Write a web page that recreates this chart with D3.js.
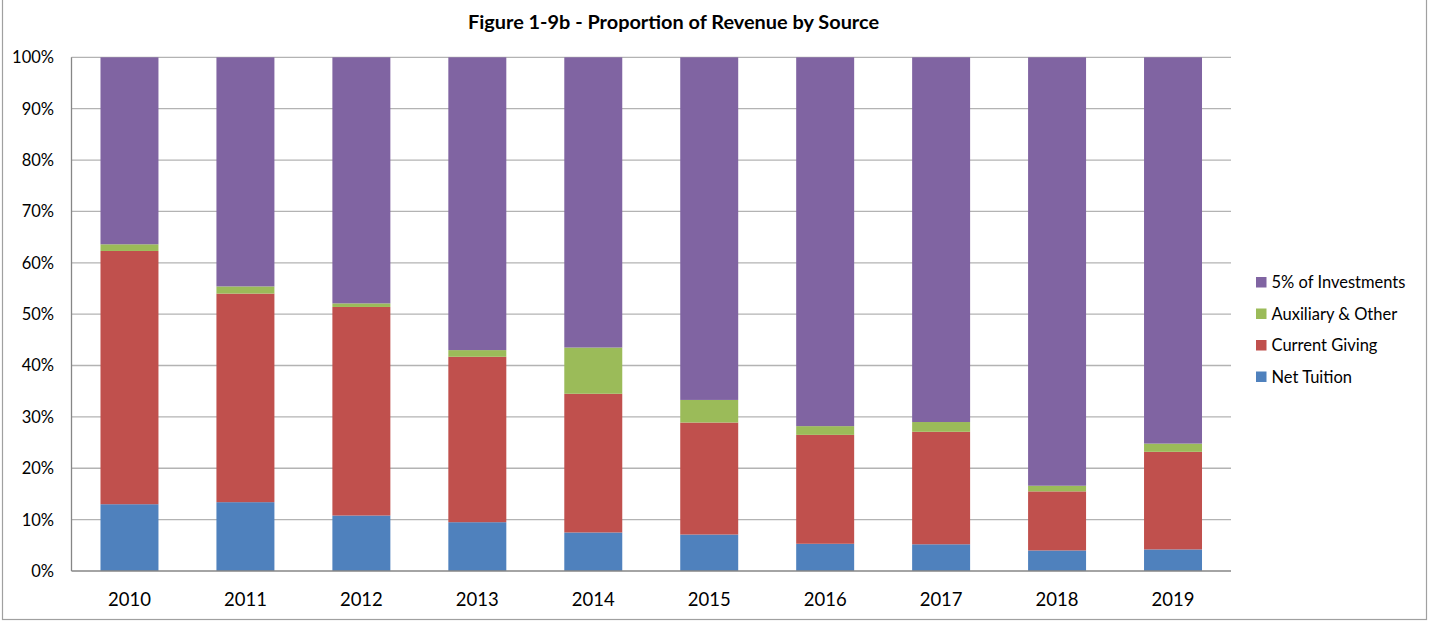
<!DOCTYPE html>
<html>
<head>
<meta charset="utf-8">
<script src="https://cdn.jsdelivr.net/npm/d3@7"></script>
<style>
  body { margin: 0; background: #fff; }
  text { font-family: Lato, "Liberation Sans", Arial, sans-serif; fill: #000; }
</style>
</head>
<body>
<svg id="chart" width="1430" height="621"></svg>
<script>
// data (percent of total revenue)
var years = ["2010", "2011", "2012", "2013", "2014", "2015", "2016", "2017", "2018", "2019"];
var netTuition    = [13.0, 13.4, 10.8, 9.5, 7.5, 7.1, 5.3, 5.2, 4.0, 4.2];
var currentGiving = [49.3, 40.6, 40.6, 32.2, 27.0, 21.8, 21.2, 21.9, 11.5, 19.0];
var auxiliary     = [1.3, 1.4, 0.7, 1.3, 9.0, 4.4, 1.7, 1.9, 1.1, 1.6];
var investments   = [36.4, 44.6, 47.9, 57.0, 56.5, 66.7, 71.8, 71.0, 83.4, 75.2];
var seriesNames = ["Net Tuition", "Current Giving", "Auxiliary & Other", "5% of Investments"];
var seriesColors = ["#4f81bd", "#c0504d", "#9bbb59", "#8064a2"];
var yTicks = [0, 10, 20, 30, 40, 50, 60, 70, 80, 90, 100];

var svg = d3.select("#chart");

// outer frame
svg.append("rect")
	.attr("x", 2.5).attr("y", -2)
	.attr("width", 1424).attr("height", 621.5)
	.attr("fill", "none")
	.attr("stroke", "#a0a0a0")
	.attr("stroke-width", 1.2);

var plot = { left: 71.5, right: 1231, top: 57.3, bottom: 571 };

var x = d3.scaleBand()
	.domain(years)
	.range([plot.left, plot.right])
	.paddingInner(0.5)
	.paddingOuter(0.25);

var y = d3.scaleLinear()
	.domain([0, 100])
	.range([plot.bottom, plot.top]);

// gridlines
svg.append("g")
	.selectAll("line")
	.data(yTicks.slice(1))
	.enter()
	.append("line")
	.attr("x1", plot.left).attr("x2", plot.right)
	.attr("y1", function (d) { return y(d); })
	.attr("y2", function (d) { return y(d); })
	.attr("stroke", "#b3b3b3")
	.attr("stroke-width", 1.3);

// stack
var rows = years.map(function (yr, i) {
	return { year: yr, s0: netTuition[i], s1: currentGiving[i], s2: auxiliary[i], s3: investments[i] };
});
var stack = d3.stack().keys(["s0", "s1", "s2", "s3"]).offset(d3.stackOffsetExpand);
var layers = stack(rows);

svg.append("g")
	.selectAll("g")
	.data(layers)
	.enter()
	.append("g")
	.attr("fill", function (d, i) { return seriesColors[i]; })
	.selectAll("rect")
	.data(function (d) { return d; })
	.enter()
	.append("rect")
	.attr("x", function (d) { return x(d.data.year); })
	.attr("width", x.bandwidth())
	.attr("y", function (d) { return y(d[1] * 100); })
	.attr("height", function (d) { return y(d[0] * 100) - y(d[1] * 100); });

// axes lines
svg.append("line")
	.attr("x1", plot.left).attr("x2", plot.left)
	.attr("y1", plot.top).attr("y2", plot.bottom)
	.attr("stroke", "#868686").attr("stroke-width", 1.3);
svg.append("line")
	.attr("x1", plot.left).attr("x2", plot.right)
	.attr("y1", plot.bottom).attr("y2", plot.bottom)
	.attr("stroke", "#868686").attr("stroke-width", 1.3);

// y tick labels
svg.append("g")
	.selectAll("text")
	.data(yTicks)
	.enter()
	.append("text")
	.attr("x", 54)
	.attr("y", function (d) { return y(d); })
	.attr("dy", "0.36em")
	.attr("text-anchor", "end")
	.style("font-size", "16.5px")
	.text(function (d) { return d + "%"; });

// x tick labels
svg.append("g")
	.selectAll("text")
	.data(years)
	.enter()
	.append("text")
	.attr("x", function (d) { return x(d) + x.bandwidth() / 2; })
	.attr("y", 606)
	.attr("text-anchor", "middle")
	.style("font-size", "18.5px")
	.text(function (d) { return d; });

// title
svg.append("text")
	.attr("x", 673.5)
	.attr("y", 29)
	.attr("text-anchor", "middle")
	.style("font-size", "19px")
	.style("font-weight", "bold")
	.attr("textLength", 411)
	.attr("lengthAdjust", "spacingAndGlyphs")
	.text("Figure 1-9b - Proportion of Revenue by Source");

// legend (reverse order, top = investments)
var legend = svg.append("g")
	.selectAll("g")
	.data(d3.range(seriesNames.length).reverse())
	.enter()
	.append("g")
	.attr("transform", function (d, i) { return "translate(1256," + (282.3 + i * 31.5) + ")"; });

legend.append("rect")
	.attr("x", 0).attr("y", -5.3)
	.attr("width", 10.5).attr("height", 10.5)
	.attr("fill", function (d) { return seriesColors[d]; });

legend.append("text")
	.attr("x", 15.5)
	.attr("dy", "0.36em")
	.style("font-size", "16.5px")
	.text(function (d) { return seriesNames[d]; });
</script>
</body>
</html>
